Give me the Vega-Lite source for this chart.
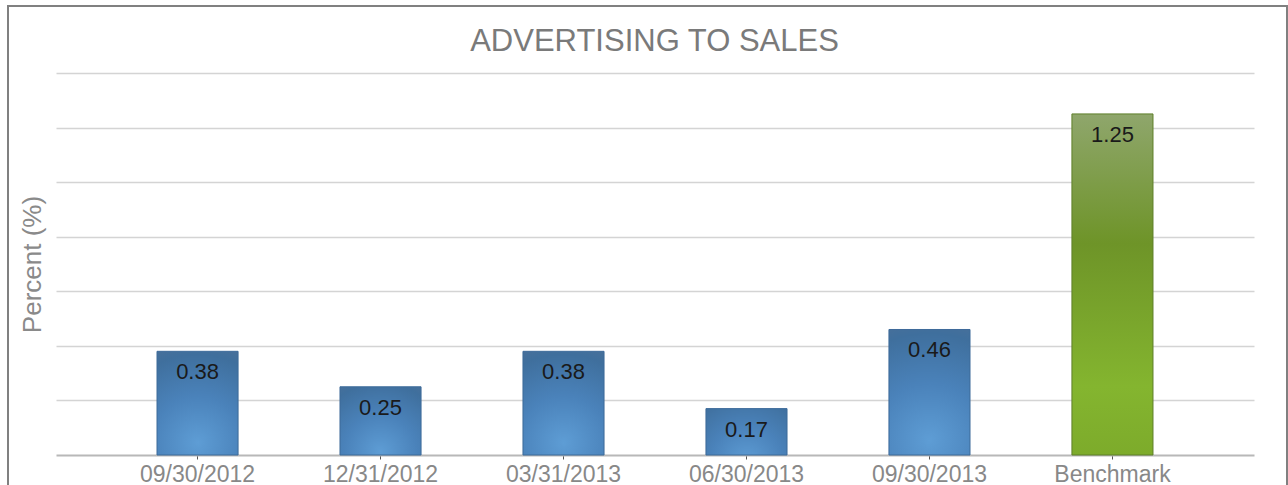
{
  "$schema": "https://vega.github.io/schema/vega-lite/v6.json",
  "width": 1279,
  "height": 500,
  "autosize": {"type": "none"},
  "padding": {"left": 8, "top": 6, "right": 1, "bottom": 0},
  "background": "white",
  "config": {
    "view": {"stroke": "#808080", "strokeWidth": 2},
    "font": "Liberation Sans"
  },
  "title": {
    "text": "ADVERTISING TO SALES",
    "fontSize": 31,
    "fontWeight": "normal",
    "color": "#7a7a7a",
    "font": "Liberation Sans",
    "anchor": "middle",
    "frame": "group",
    "baseline": "alphabetic",
    "offset": -76,
    "dx": 7
  },
  "data": {
    "values": [
      {"period": "09/30/2012", "value": 0.38, "type": "Company"},
      {"period": "12/31/2012", "value": 0.25, "type": "Company"},
      {"period": "03/31/2013", "value": 0.38, "type": "Company"},
      {"period": "06/30/2013", "value": 0.17, "type": "Company"},
      {"period": "09/30/2013", "value": 0.46, "type": "Company"},
      {"period": "Benchmark", "value": 1.25, "type": "Benchmark"}
    ]
  },
  "encoding": {
    "x": {
      "field": "period",
      "type": "nominal",
      "sort": null,
      "scale": {"range": [48, 1246], "paddingInner": 0.557, "paddingOuter": 0.552},
      "axis": {
        "title": null,
        "domain": true,
        "domainColor": "#b8b8b8",
        "domainWidth": 2,
        "ticks": true,
        "tickColor": "#555555",
        "tickSize": 4,
        "tickWidth": 1,
        "labelFontSize": 23,
        "labelColor": "#888888",
        "labelFont": "Liberation Sans",
        "labelPadding": 4,
        "labelAngle": 0,
        "grid": false,
        "offset": -51
      }
    },
    "y": {
      "field": "value",
      "type": "quantitative",
      "scale": {"domain": [0, 1.4], "range": [449, 67], "nice": false, "zero": false},
      "axis": {
        "title": "Percent (%)",
        "titleFontSize": 26,
        "titleColor": "#8a8a8a",
        "titleFont": "Liberation Sans",
        "titleFontWeight": "normal",
        "titlePadding": 5,
        "domain": false,
        "ticks": false,
        "labels": false,
        "grid": true,
        "gridColor": "#d4d4d4",
        "gridWidth": 1.5,
        "values": [0.2, 0.4, 0.6, 0.8, 1.0, 1.2, 1.4],
        "offset": -42
      }
    }
  },
  "layer": [
    {
      "mark": {"type": "bar", "strokeWidth": 1},
      "encoding": {
        "fill": {
          "condition": {
            "test": "datum.type === 'Benchmark'",
            "value": {
              "gradient": "linear", "x1": 0, "y1": 0, "x2": 0, "y2": 1,
              "stops": [
                {"offset": 0, "color": "#8fa66c"},
                {"offset": 0.38, "color": "#6e9428"},
                {"offset": 0.8, "color": "#84b52f"},
                {"offset": 1, "color": "#7dab2b"}
              ]
            }
          },
          "value": {
            "gradient": "radial", "x1": 0.5, "y1": 0.88, "r1": 0, "x2": 0.5, "y2": 0.88, "r2": 1.0,
            "stops": [
              {"offset": 0, "color": "#5e9dd5"},
              {"offset": 0.45, "color": "#4a82ba"},
              {"offset": 0.85, "color": "#3f6f9d"},
              {"offset": 1, "color": "#4a7099"}
            ]
          }
        },
        "stroke": {
          "condition": {"test": "datum.type === 'Benchmark'", "value": "#5f7f2a"},
          "value": "#3d6a99"
        }
      }
    },
    {
      "mark": {"type": "text", "baseline": "alphabetic", "dy": 28, "fontSize": 22, "color": "#1a1a1a", "font": "Liberation Sans"},
      "encoding": {
        "text": {"field": "value", "type": "quantitative", "format": ".2f"}
      }
    }
  ]
}
